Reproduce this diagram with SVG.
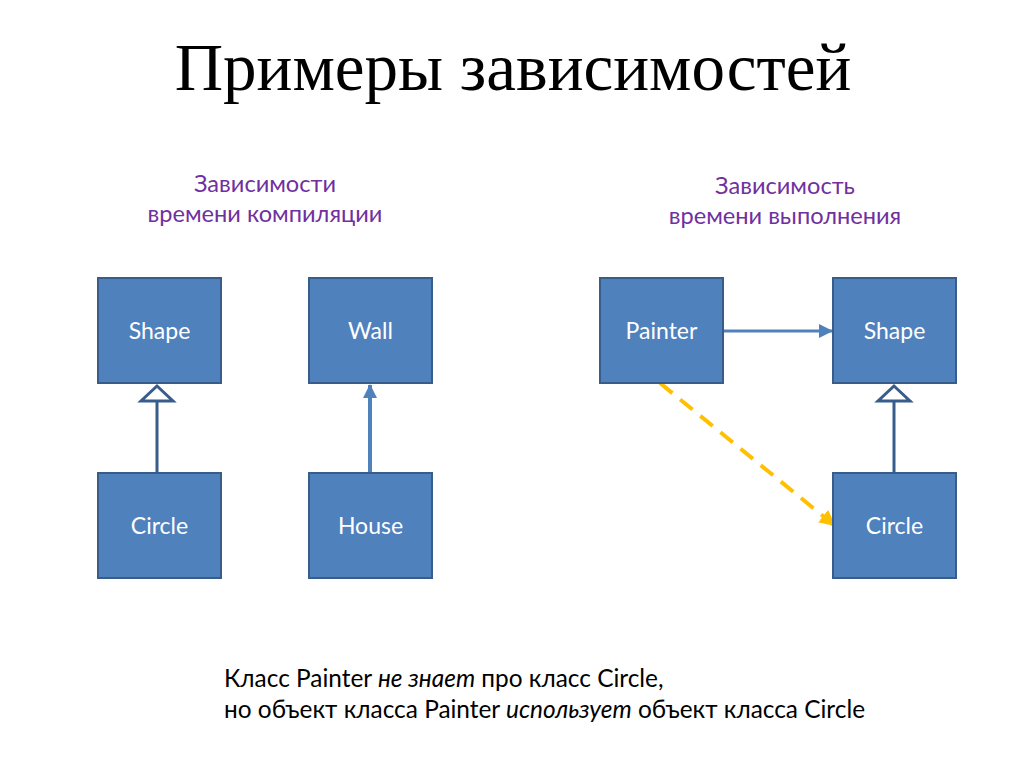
<svg xmlns="http://www.w3.org/2000/svg" width="1024" height="767" viewBox="0 0 1024 767">
<style>
.box{fill:#4F81BD;stroke:#385D8A;stroke-width:2}
.lbl{font-family:Lato,"Open Sans",sans-serif;font-size:23px;fill:#fff;text-anchor:middle}
.sub{font-family:Lato,"Open Sans",sans-serif;font-size:23.6px;fill:#7030A0;text-anchor:middle}
.note{font-family:Lato,"Open Sans",sans-serif;font-size:24.4px;fill:#000}
</style>
<defs>
<marker id="arr" markerWidth="14" markerHeight="14" refX="13" refY="7" orient="auto" markerUnits="userSpaceOnUse" viewBox="0 0 14 14">
<path d="M0,0 L14,7 L0,14 z" fill="#4F81BD"/>
</marker>
<marker id="arrY" markerWidth="16" markerHeight="16" refX="14" refY="8" orient="auto" markerUnits="userSpaceOnUse" viewBox="0 0 16 16">
<path d="M0,0 L16,8 L0,16 z" fill="#FFC000"/>
</marker>
</defs>
<rect width="1024" height="767" fill="#fff"/>
<text x="513" y="90" font-family="Liberation Serif,serif" font-size="67" text-anchor="middle" fill="#000">Примеры зависимостей</text>
<text class="sub" x="265" y="192">Зависимости</text>
<text class="sub" x="265" y="222">времени компиляции</text>
<text class="sub" x="785" y="194">Зависимость</text>
<text class="sub" x="785" y="224">времени выполнения</text>
<g id="connectors">
<line x1="157" y1="473" x2="157" y2="401" stroke="#385D8A" stroke-width="3"/>
<polygon points="157,386 173,401 141,401" fill="#fff" stroke="#385D8A" stroke-width="3"/>
<line x1="370" y1="473" x2="370" y2="385" stroke="#4F81BD" stroke-width="4" marker-end="url(#arr)"/>
<line x1="723" y1="331" x2="832" y2="331" stroke="#4F81BD" stroke-width="3" marker-end="url(#arr)"/>
<line x1="660" y1="383" x2="834" y2="525" stroke="#FFC000" stroke-width="4" stroke-dasharray="16,10" marker-end="url(#arrY)"/>
<line x1="894" y1="473" x2="894" y2="401" stroke="#385D8A" stroke-width="3"/>
<polygon points="894,386 910,401 878,401" fill="#fff" stroke="#385D8A" stroke-width="3"/>
</g>
<g id="shape1"><rect class="box" x="98" y="278" width="123" height="105"/><text class="lbl" x="159.5" y="339">Shape</text></g>
<g id="wall"><rect class="box" x="309" y="278" width="123" height="105"/><text class="lbl" x="370.5" y="339">Wall</text></g>
<g id="circle1"><rect class="box" x="98" y="473" width="123" height="105"/><text class="lbl" x="159.5" y="534">Circle</text></g>
<g id="house"><rect class="box" x="309" y="473" width="123" height="105"/><text class="lbl" x="370.5" y="534">House</text></g>
<g id="painter"><rect class="box" x="600" y="278" width="123" height="105"/><text class="lbl" x="661.5" y="339">Painter</text></g>
<g id="shape2"><rect class="box" x="833" y="278" width="123" height="105"/><text class="lbl" x="894.5" y="339">Shape</text></g>
<g id="circle2"><rect class="box" x="833" y="473" width="123" height="105"/><text class="lbl" x="894.5" y="534">Circle</text></g>
<text class="note" x="224" y="687">Класс Painter <tspan font-style="italic">не знает</tspan> про класс Circle,</text>
<text class="note" x="224" y="718">но объект класса Painter <tspan font-style="italic">использует</tspan> объект класса Circle</text>
</svg>
